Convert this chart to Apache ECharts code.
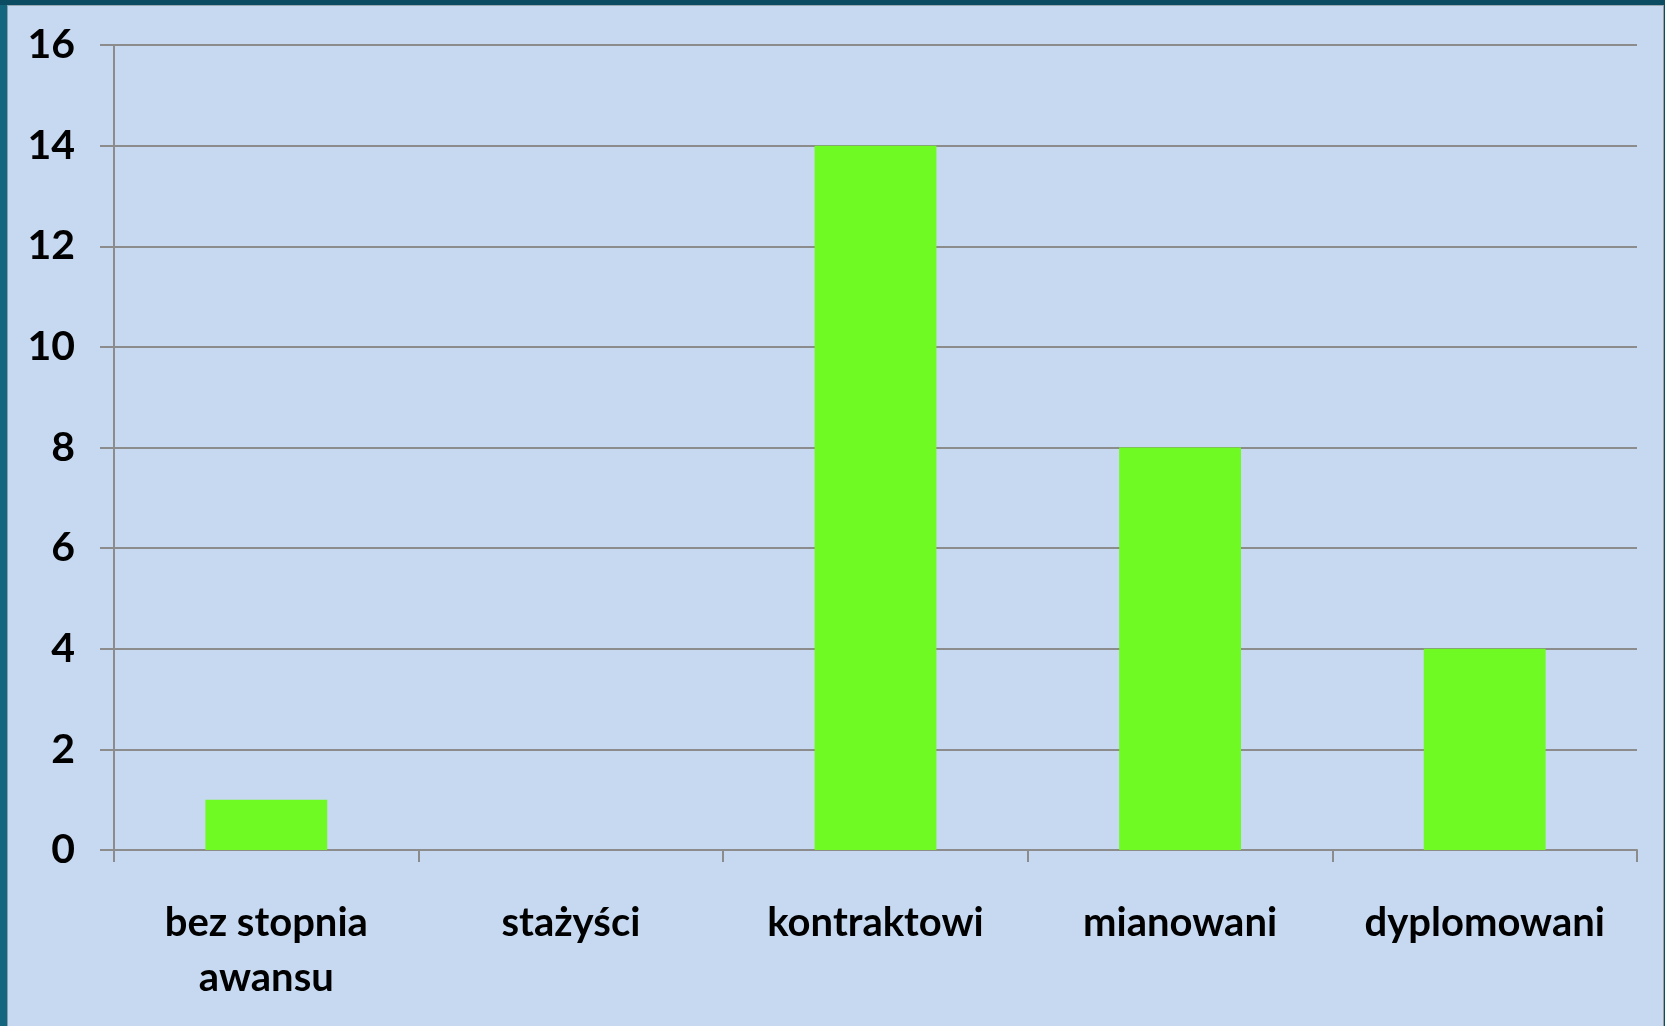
<!DOCTYPE html>
<html>
<head>
<meta charset="utf-8">
<title>Nauczyciele wg stopnia awansu</title>
<script src="https://cdn.jsdelivr.net/npm/echarts@6/dist/echarts.min.js"></script>
<style>
  html, body { margin: 0; padding: 0; width: 1665px; height: 1026px; overflow: hidden; }
  #frame { position: absolute; left: 0; top: 0; width: 1665px; height: 1026px; background: #0c4c63; }
  #inner {
    position: absolute; left: 7px; top: 5px; right: 1px; bottom: 0;
    background: #c6d9f0; border-left: 1px solid #8aa0b0; border-top: 1px solid #9aa8b4; border-right: 1px solid #9aa0a8;
  }
  #leftband { position: absolute; left: 0; top: 5px; width: 7px; bottom: 0; background: #14667e; }
  #chart { position: absolute; left: 0; top: 0; width: 1665px; height: 1026px; }
</style>
</head>
<body>
<div id="frame"></div>
<div id="leftband"></div>
<div id="inner"></div>
<div id="chart"></div>
<script>
// dane
const categories = ['bez stopnia\nawansu', 'stażyści', 'kontraktowi', 'mianowani', 'dyplomowani']
const values = [1, 0, 14, 8, 4]
const yMax = 16
const yStep = 2

const chart = echarts.init(document.getElementById('chart'))

chart.setOption({
  backgroundColor: 'transparent',
  animation: false,
  textStyle: { fontFamily: 'Lato' },
  grid: {
    left: 114,
    right: 28,
    top: 45,
    bottom: 176
  },
  xAxis: {
    type: 'category',
    data: categories,
    axisLine: { lineStyle: { color: '#8c8c8c', width: 2 } },
    axisTick: { show: true, length: 12, lineStyle: { color: '#8c8c8c', width: 2 } },
    axisLabel: {
      margin: 46,
      color: '#000',
      fontSize: 40,
      fontWeight: 'bold',
      lineHeight: 55,
      interval: 0
    }
  },
  yAxis: {
    type: 'value',
    min: 0,
    max: yMax,
    interval: yStep,
    axisLine: { show: true, lineStyle: { color: '#8c8c8c', width: 2 } },
    axisTick: { show: true, length: 14, lineStyle: { color: '#8c8c8c', width: 2 } },
    splitLine: { lineStyle: { color: '#8c8c8c', width: 2 } },
    axisLabel: {
      margin: 39,
      color: '#000',
      fontSize: 41,
      fontWeight: 'bold'
    }
  },
  series: [{
    type: 'bar',
    data: values,
    barWidth: '40%',
    itemStyle: { color: '#6efa22' }
  }]
})
</script>
</body>
</html>
